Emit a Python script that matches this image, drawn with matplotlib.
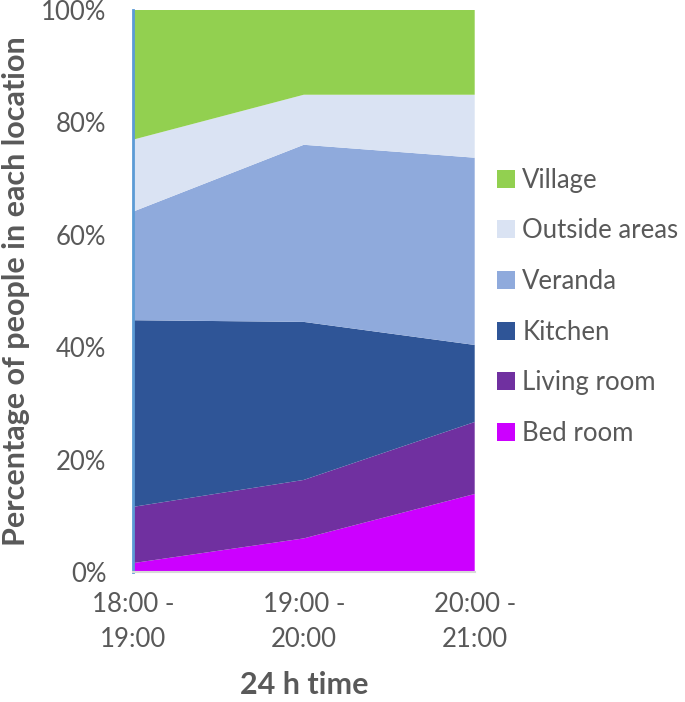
import matplotlib
matplotlib.use("Agg")
import matplotlib.pyplot as plt
from matplotlib.patches import Patch

plt.rcParams['font.family'] = ['Lato', 'DejaVu Sans']

periods = ["18:00 -\n19:00", "19:00 -\n20:00", "20:00 -\n21:00"]
locations = ["Bed room", "Living room", "Kitchen", "Veranda", "Outside areas", "Village"]
bed_room = [1.6, 6.0, 13.9]
living_room = [10.0, 10.4, 12.8]
kitchen = [33.2, 28.1, 13.7]
veranda = [19.3, 31.5, 33.3]
outside_areas = [12.8, 8.9, 11.2]
village = [23.1, 15.1, 15.1]

colors = ["#cc00ff", "#7030a0", "#2f5597", "#8faadc", "#dae3f3", "#92d050"]
grey = "#595959"

fig = plt.figure(figsize=(6.85, 7.02), dpi=100)
ax = fig.add_axes([0.194, 0.185, 0.499, 0.801])

x = range(len(periods))
ax.stackplot(x, bed_room, living_room, kitchen, veranda, outside_areas, village,
             colors=colors, linewidth=0)

ax.set_xlim(0, len(periods) - 1)
ax.set_ylim(0, 100)
ax.set_xticks(list(x))
ax.set_xticklabels(periods, fontsize=18.5, color=grey, linespacing=1.5)
ax.set_yticks(range(0, 101, 20))
ax.set_yticklabels([f"{v}%" for v in range(0, 101, 20)], fontsize=18.5, color=grey)
ax.tick_params(length=0)
ax.tick_params(axis="y", pad=19)
ax.tick_params(axis="x", pad=14)

for s in ["top", "right"]:
    ax.spines[s].set_visible(False)
ax.spines["left"].set_color("#5b9bd5")
ax.spines["left"].set_linewidth(2)
ax.spines["bottom"].set_color("#d9d9d9")
ax.spines["bottom"].set_linewidth(1.5)

ax.set_xlabel("24 h time", fontsize=22, fontweight="bold", color=grey, labelpad=14)
ax.set_ylabel("Percentage of people in each location", fontsize=22,
              fontweight="bold", color=grey, labelpad=8)

handles = [Patch(facecolor=c, label=l) for c, l in zip(colors, locations)][::-1]
leg = fig.legend(handles=handles, loc="upper left", bbox_to_anchor=(0.71, 0.776),
                 frameon=False, fontsize=18.5, handlelength=0.7, handleheight=0.7,
                 handletextpad=0.3, labelspacing=1.0, borderaxespad=0)
for t in leg.get_texts():
    t.set_color(grey)

fig.savefig("out.png", dpi=100)
